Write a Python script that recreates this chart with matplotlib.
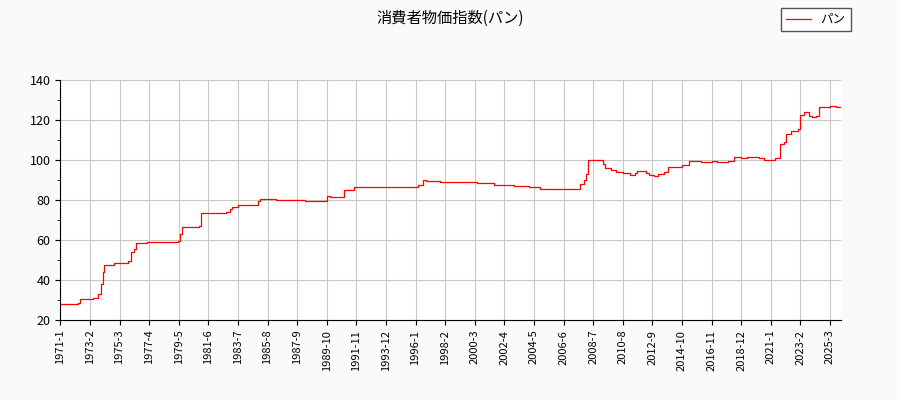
import numpy as np
import matplotlib.pyplot as plt
from matplotlib.ticker import MultipleLocator

plt.rcParams['font.family'] = ['Noto Sans CJK JP', 'DejaVu Sans']

# month index from 1971-01 where the index changes, and the value from that month
months = [0, 15, 17, 28, 32, 34, 36, 37, 45, 57, 60, 62, 64, 73, 99, 101, 103, 117, 119,
          140, 143, 145, 150, 165, 167, 169, 182, 196, 207, 225, 228, 240, 248, 302, 306,
          309, 321, 352, 366, 383, 396, 405, 439, 442, 444, 446, 455, 458, 460, 465, 469,
          475, 481, 485, 487, 492, 495, 497, 501, 505, 510, 513, 525, 531, 541, 550, 555,
          564, 569, 575, 580, 590, 594, 598, 604, 608, 611, 613, 617, 623, 625, 628, 632,
          635, 638, 641, 645, 650, 655, 659]
values = [27.8, 28.5, 30.5, 31.2, 33, 38, 44, 47.5, 48.5, 49.5, 54, 55.5, 58.5, 59.2, 59.5,
          63, 66.7, 67, 73.3, 74, 75.5, 76.5, 77.3, 77.7, 79.5, 80.5, 80.2, 79.8, 79.5, 81.8,
          81.7, 85.2, 86.5, 87.5, 89.8, 89.3, 88.8, 88.3, 87.5, 87, 86.3, 85.6, 88, 90, 93, 100,
          100, 98, 96, 95, 94, 93.6, 92.6, 93.5, 94.7, 94.3, 93.5, 92.3, 92.2, 93, 94, 96.5,
          97.3, 99.3, 99, 99.6, 99.2, 99.7, 101.7, 101, 101.3, 101, 99.8, 100, 101, 107.8,
          109, 112.8, 114.5, 115.3, 122.7, 124, 122, 121.5, 121.8, 126.3, 126.5, 127, 126.5, 126.5]

labels = []
tick_pos = np.arange(0, 660, 25)
for m in tick_pos:
    labels.append(f"{1971 + m // 12}-{m % 12 + 1}")

fig = plt.figure(figsize=(9, 4), dpi=100, facecolor='#fafafa')
ax = fig.add_axes([0.067, 0.2, 0.867, 0.6])
ax.step(months, values, where='post', color='red', linewidth=0.9, label='パン')
ax.set_xlim(0, 659)
ax.set_ylim(20, 140)
ax.set_xticks(tick_pos)
ax.set_xticklabels(labels, rotation=90, fontsize=8)
ax.yaxis.set_major_locator(MultipleLocator(20))
ax.yaxis.set_minor_locator(MultipleLocator(10))
ax.tick_params(axis='y', labelsize=9)
ax.grid(True, color='#c8c8c8', linewidth=0.8)
ax.set_axisbelow(True)
for s in ['top', 'right']:
    ax.spines[s].set_visible(False)
fig.suptitle('消費者物価指数(パン)', y=0.975, fontsize=11)
fig.legend(loc='upper right', bbox_to_anchor=(0.952, 0.995), fontsize=9,
           fancybox=False, edgecolor='#555555', framealpha=1)
fig.savefig('out.png', facecolor=fig.get_facecolor())
